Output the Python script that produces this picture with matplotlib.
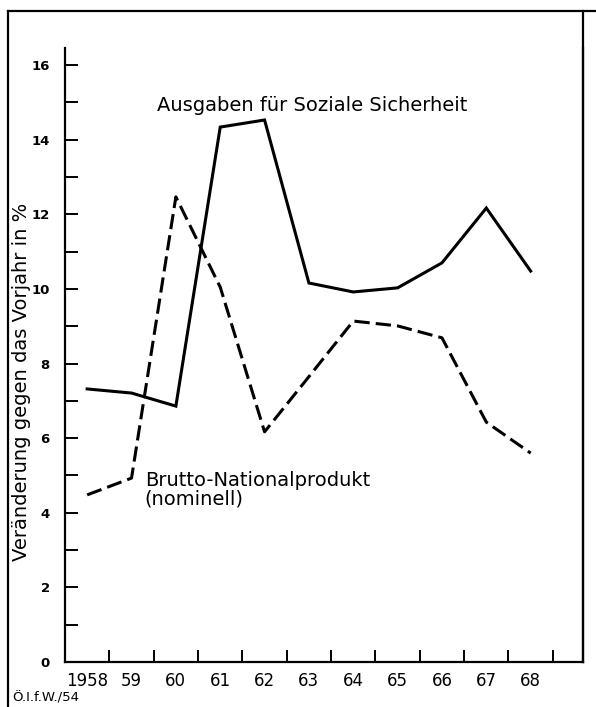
import matplotlib.pyplot as plt
from matplotlib.lines import Line2D

# Werte (Veränderung gegen Vorjahr in %)
jahre = [1958, 1959, 1960, 1961, 1962, 1963, 1964, 1965, 1966, 1967, 1968]
ausgaben = [7.32, 7.21, 6.86, 14.34, 14.53, 10.16, 9.92, 10.03, 10.7, 12.17, 10.48]
bnp = [4.48, 4.93, 12.47, 10.05, 6.17, 7.65, 9.14, 9.01, 8.69, 6.43, 5.6]
jahr_labels = ['1958', '59', '60', '61', '62', '63', '64', '65', '66', '67', '68']

W, H = 596, 707
fig = plt.figure(figsize=(W / 100, H / 100), dpi=100)
ax = fig.add_axes([65 / W, 1 - 662 / H, (583 - 65) / W, (662 - 48) / H])

ax.plot(jahre, ausgaben, color='black', linewidth=2.2, solid_joinstyle='miter')
ax.plot(jahre, bnp, color='black', linewidth=2.2, dashes=(5, 2))

ax.set_xlim(1957.5, 1969.18)
ax.set_ylim(0, 16.46)

ax.spines['top'].set_visible(False)
for s in ['left', 'bottom', 'right']:
    ax.spines[s].set_linewidth(1.6)

# y-Achse
ax.set_yticks(range(0, 17, 2))
ax.set_yticks(range(1, 17, 2), minor=True)
ax.tick_params(axis='y', which='both', direction='in', length=9, width=1.4, pad=11,
               labelsize=9.5)
for t in ax.get_yticklabels():
    t.set_fontweight('bold')

# x-Achse: Striche zwischen den Jahren, Beschriftung in der Mitte
ax.set_xticks([j + 0.5 for j in jahre])
ax.set_xticklabels([])
ax.set_xticks(jahre, minor=True)
ax.set_xticklabels(jahr_labels, minor=True, fontsize=12)
ax.tick_params(axis='x', which='major', direction='in', length=9, width=1.4)
ax.tick_params(axis='x', which='minor', length=0, pad=7)

ax.text(1963.07, 14.93, 'Ausgaben für Soziale Sicherheit', fontsize=14,
        ha='center', va='center')
ax.text(1959.3, 4.61, 'Brutto-Nationalprodukt\n(nominell)', fontsize=14,
        ha='left', va='center', linespacing=0.95)

fig.text(21.5 / W, 1 - 382 / H, 'Veränderung gegen das Vorjahr in %', rotation=90,
         fontsize=14, ha='center', va='center')
fig.text(12 / W, 1 - 698 / H, 'Ö.I.f.W./54', fontsize=9.5, ha='left', va='center')

# Rahmen
fig.add_artist(Line2D([8 / W, 8 / W], [0, 1 - 11 / H], color='black', linewidth=1.6,
                      transform=fig.transFigure))
fig.add_artist(Line2D([8 / W, 1], [1 - 11 / H, 1 - 11 / H], color='black', linewidth=1.6,
                      transform=fig.transFigure))
fig.add_artist(Line2D([583 / W, 583 / W], [1 - 662 / H, 1 - 11 / H], color='black',
                      linewidth=1.6, transform=fig.transFigure))

fig.savefig('out.png', dpi=100)
